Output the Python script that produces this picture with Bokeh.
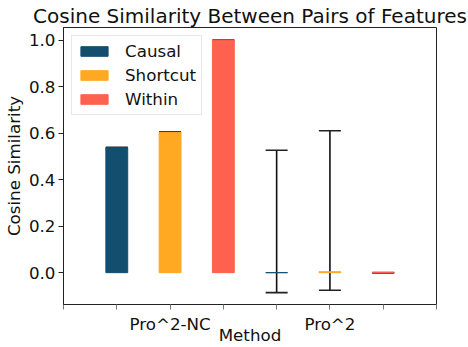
from bokeh.plotting import figure
from bokeh.models import (Range1d, FixedTicker, Whisker, TeeHead, ColumnDataSource)
from bokeh.embed import file_html
from bokeh.resources import INLINE

# ---- data ----
methods = ["Pro^2-NC", "Pro^2"]
series = ["Causal", "Shortcut", "Within"]
colors = ["#134e6f", "#ffa822", "#ff6150"]

causal = [0.538, 0.000]
shortcut = [0.604, 0.004]
within = [1.000, 0.000]

causal_lo = [0.535, -0.086]
causal_hi = [0.540, 0.527]
shortcut_lo = [0.600, -0.076]
shortcut_hi = [0.606, 0.611]
within_lo = [0.997, -0.001]
within_hi = [1.001, 0.001]

y_ticks = [0.0, 0.2, 0.4, 0.6, 0.8, 1.0]

values = [causal, shortcut, within]
lows = [causal_lo, shortcut_lo, within_lo]
highs = [causal_hi, shortcut_hi, within_hi]

FONT = "DejaVu Sans"
n_series = len(series)
n_slots = len(methods) * n_series + 1

p = figure(width=468, height=347, output_backend="svg", toolbar_location=None,
           x_range=Range1d(0, n_slots), y_range=Range1d(-0.137, 1.055),
           min_border_left=62, min_border_right=32, min_border_top=27,
           min_border_bottom=43)

p.title.text = "Cosine Similarity Between Pairs of Features"
p.title.text_font = FONT
p.title.text_font_size = "20px"
p.title.text_font_style = "normal"
p.title.text_color = "#111111"
p.title.align = "center"
p.title.standoff = 0
p.title.offset = 0

for si, name in enumerate(series):
    xs = [g * n_series + si + 1 for g in range(len(methods))]
    src = ColumnDataSource(dict(x=xs, top=values[si], lo=lows[si], hi=highs[si]))
    p.vbar(x="x", top="top", bottom=0, width=0.41, source=src,
           fill_color=colors[si], line_color=colors[si], line_width=1,
           legend_label=name)
    w = Whisker(base="x", lower="lo", upper="hi", source=src,
                line_color="#111111", line_width=1.6,
                lower_head=TeeHead(size=22, line_color="#222222", line_width=1.6),
                upper_head=TeeHead(size=22, line_color="#222222", line_width=1.6))
    p.add_layout(w)

# axes
p.xgrid.visible = False
p.ygrid.visible = False
p.outline_line_color = "#222222"
p.outline_line_width = 1

xa = p.xaxis[0]
ticks = list(range(n_slots + 1))
xa.ticker = FixedTicker(ticks=ticks)
overrides = {t: "" for t in ticks}
for g, m in enumerate(methods):
    overrides[g * n_series + 2] = m
xa.major_label_overrides = overrides
xa.minor_tick_line_color = None
xa.major_tick_out = 5
xa.major_tick_in = 0
xa.major_tick_line_color = "#777777"
xa.axis_line_color = "#222222"
xa.major_label_standoff = 4
xa.major_label_text_font = FONT
xa.major_label_text_font_size = "16.7px"
xa.major_label_text_color = "#111111"
xa.axis_label = "Method"
xa.axis_label_text_font = FONT
xa.axis_label_text_font_size = "16.7px"
xa.axis_label_text_font_style = "normal"
xa.axis_label_text_color = "#111111"
xa.axis_label_standoff = -12

ya = p.yaxis[0]
ya.ticker = FixedTicker(ticks=y_ticks)
ya.major_label_overrides = {t: f"{t:.1f}" for t in y_ticks}
ya.minor_tick_line_color = None
ya.major_tick_out = 5
ya.major_tick_in = 0
ya.major_tick_line_color = "#222222"
ya.axis_line_color = "#222222"
ya.major_label_standoff = 3
ya.major_label_text_font = FONT
ya.major_label_text_font_size = "16.7px"
ya.major_label_text_color = "#111111"
ya.axis_label = "Cosine Similarity"
ya.axis_label_text_font = FONT
ya.axis_label_text_font_size = "16.7px"
ya.axis_label_text_font_style = "normal"
ya.axis_label_text_color = "#111111"
ya.axis_label_standoff = 2

# legend
lg = p.legend[0]
lg.location = "top_left"
lg.margin = 8
lg.padding = 5
lg.spacing = 4
lg.glyph_width = 34
lg.glyph_height = 12
lg.label_height = 20
lg.label_standoff = 14
lg.label_text_font = FONT
lg.label_text_font_size = "16.7px"
lg.label_text_color = "#111111"
lg.border_line_color = "#d0d0d0"
lg.border_line_width = 1
lg.background_fill_alpha = 0.8

open("out.html", "w").write(file_html(p, INLINE))
